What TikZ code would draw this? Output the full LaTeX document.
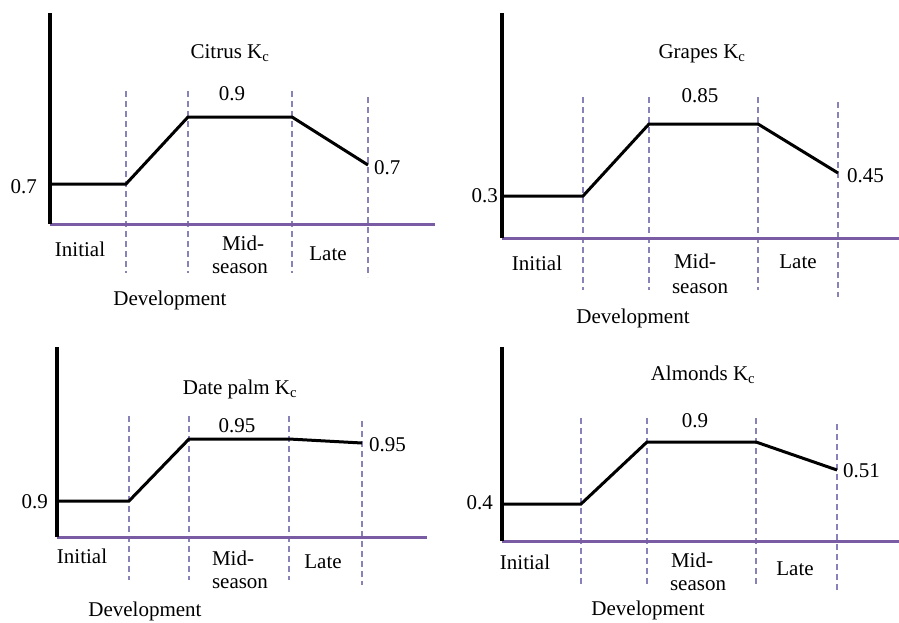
\documentclass[tikz,border=0pt]{standalone}
\usepackage{fontspec}
\setmainfont{Liberation Serif}
\begin{document}
\begin{tikzpicture}[x=1pt,y=-1pt,
  lbl/.style={inner sep=0pt,font=\fontsize{21}{25}\selectfont},
  yaxis/.style={line width=3.5pt,black},
  xaxis/.style={line width=3pt,color={rgb,255:red,122;green,92;blue,164}},
  stage/.style={dashed,dash pattern=on 6pt off 4pt,line width=1.2pt,color={rgb,255:red,135;green,130;blue,185}},
  curve/.style={line width=3pt,black,line join=miter}]
\useasboundingbox[fill=white] (0,0) rectangle (899,622);
% ---------- Panel 1: Citrus ----------
\coordinate (a0) at (50,13); \coordinate (aO) at (50,224); \coordinate (aX) at (435,224);
\draw[stage] (126,91) -- (126,273);
\draw[stage] (188,91) -- (188,273);
\draw[stage] (292,91) -- (292,273);
\draw[stage] (368,97) -- (368,277);
\draw[xaxis] (aO) -- (aX);
\draw[yaxis] (a0) -- (aO);
\coordinate (a1) at (51,184); \coordinate (a2) at (126,184); \coordinate (a3) at (188,117);
\coordinate (a4) at (292,117); \coordinate (a5) at (368,165);
\draw[curve] (a1) -- (a2) -- (a3) -- (a4) -- (a5);
\node[lbl,anchor=base] (at) at (230,58) {Citrus K\textsubscript{c}};
\node[lbl,anchor=base east] (al) at (37,193) {0.7};
\node[lbl,anchor=base] (am) at (232,100) {0.9};
\node[lbl,anchor=base west] (ar) at (374,174) {0.7};
\node[lbl,anchor=base] (ai) at (80,256) {Initial};
\node[lbl,anchor=base] (amid) at (243,250) {Mid-};
\node[lbl,anchor=base] (ase) at (240,273) {season};
\node[lbl,anchor=base] (ala) at (328,260) {Late};
\node[lbl,anchor=base] (ad) at (170,305) {Development};
% ---------- Panel 2: Grapes ----------
\coordinate (b0) at (502,13); \coordinate (bO) at (502,238); \coordinate (bX) at (899,238);
\draw[stage] (583,97) -- (583,290);
\draw[stage] (649,97) -- (649,290);
\draw[stage] (758,97) -- (758,290);
\draw[stage] (838,102) -- (838,297);
\draw[xaxis] (bO) -- (bX);
\draw[yaxis] (b0) -- (bO);
\coordinate (b1) at (503,196); \coordinate (b2) at (583,196); \coordinate (b3) at (649,124);
\coordinate (b4) at (758,124); \coordinate (b5) at (838,173);
\draw[curve] (b1) -- (b2) -- (b3) -- (b4) -- (b5);
\node[lbl,anchor=base] (bt) at (702,58) {Grapes K\textsubscript{c}};
\node[lbl,anchor=base east] (bl) at (498,202) {0.3};
\node[lbl,anchor=base] (bm) at (700,102) {0.85};
\node[lbl,anchor=base west] (br) at (847,182) {0.45};
\node[lbl,anchor=base] (bi) at (537,270) {Initial};
\node[lbl,anchor=base] (bmid) at (695,268) {Mid-};
\node[lbl,anchor=base] (bse) at (700,293) {season};
\node[lbl,anchor=base] (bla) at (798,268) {Late};
\node[lbl,anchor=base] (bd) at (633,323) {Development};
% ---------- Panel 3: Date palm ----------
\coordinate (c0) at (57,347); \coordinate (cO) at (57,537); \coordinate (cX) at (427,537);
\draw[stage] (129,416) -- (129,580);
\draw[stage] (189,416) -- (189,580);
\draw[stage] (289,416) -- (289,580);
\draw[stage] (362,421) -- (362,585);
\draw[xaxis] (cO) -- (cX);
\draw[yaxis] (c0) -- (cO);
\coordinate (c1) at (58,501); \coordinate (c2) at (129,501); \coordinate (c3) at (189,439);
\coordinate (c4) at (289,439); \coordinate (c5) at (362,443);
\draw[curve] (c1) -- (c2) -- (c3) -- (c4) -- (c5);
\node[lbl,anchor=base] (ct) at (240,394) {Date palm K\textsubscript{c}};
\node[lbl,anchor=base east] (cl) at (48,508) {0.9};
\node[lbl,anchor=base] (cm) at (237,432) {0.95};
\node[lbl,anchor=base west] (cr) at (369,451) {0.95};
\node[lbl,anchor=base] (ci) at (82,563) {Initial};
\node[lbl,anchor=base] (cmid) at (233,565) {Mid-};
\node[lbl,anchor=base] (cse) at (240,588) {season};
\node[lbl,anchor=base] (cla) at (323,568) {Late};
\node[lbl,anchor=base] (cd) at (145,616) {Development};
% ---------- Panel 4: Almonds ----------
\coordinate (d0) at (502,347); \coordinate (dO) at (502,541); \coordinate (dX) at (899,541);
\draw[stage] (581,418) -- (581,585);
\draw[stage] (647,418) -- (647,585);
\draw[stage] (756,418) -- (756,585);
\draw[stage] (837,424) -- (837,590);
\draw[xaxis] (dO) -- (dX);
\draw[yaxis] (d0) -- (dO);
\coordinate (d1) at (503,504); \coordinate (d2) at (581,504); \coordinate (d3) at (647,442);
\coordinate (d4) at (756,442); \coordinate (d5) at (837,470);
\draw[curve] (d1) -- (d2) -- (d3) -- (d4) -- (d5);
\node[lbl,anchor=base] (dt) at (703,380) {Almonds K\textsubscript{c}};
\node[lbl,anchor=base east] (dl) at (493,509) {0.4};
\node[lbl,anchor=base] (dm) at (695,427) {0.9};
\node[lbl,anchor=base west] (dr) at (843,477) {0.51};
\node[lbl,anchor=base] (di) at (525,569) {Initial};
\node[lbl,anchor=base] (dmid) at (692,567) {Mid-};
\node[lbl,anchor=base] (dse) at (698,590) {season};
\node[lbl,anchor=base] (dla) at (795,575) {Late};
\node[lbl,anchor=base] (dd) at (648,615) {Development};
\end{tikzpicture}
\end{document}
